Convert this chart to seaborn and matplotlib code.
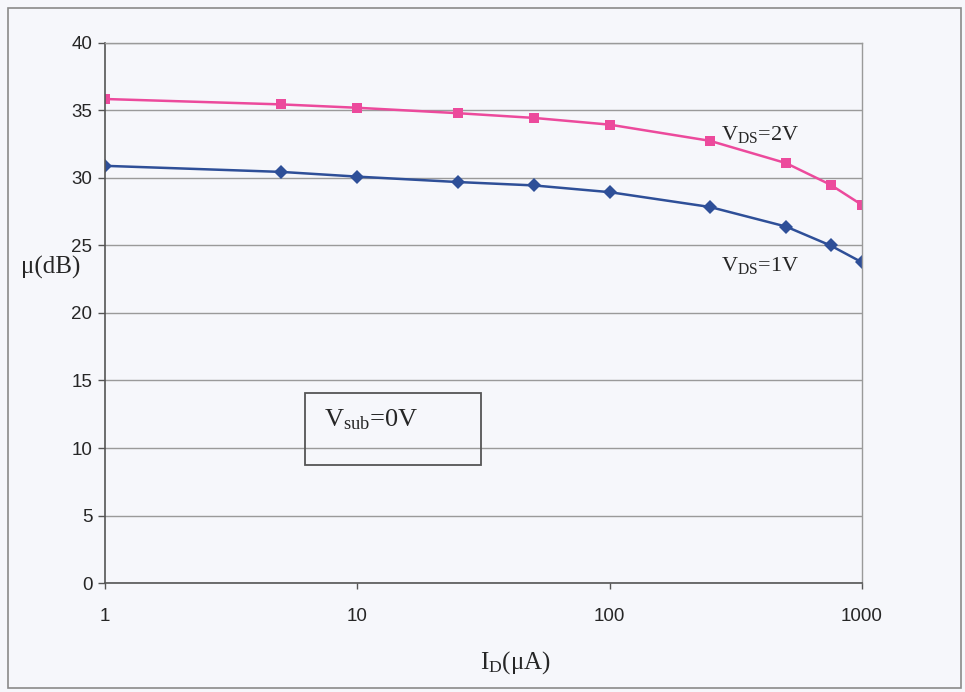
import matplotlib
matplotlib.use("Agg")
import matplotlib.pyplot as plt
import seaborn as sns
import pandas as pd
from matplotlib.patches import Rectangle
from matplotlib.ticker import FixedLocator, NullLocator, FixedFormatter

# Data
id_ua = [1, 5, 10, 25, 50, 100, 250, 500, 750, 1000]
mu_vds2 = [35.85, 35.45, 35.2, 34.8, 34.45, 33.95, 32.75, 31.1, 29.5, 28.0]
mu_vds1 = [30.9, 30.45, 30.1, 29.7, 29.45, 28.95, 27.85, 26.4, 25.0, 23.75]
series_names = ["VDS=2V", "VDS=1V"]
yticks = [0, 5, 10, 15, 20, 25, 30, 35, 40]
xticks = [1, 10, 100, 1000]
xtick_labels = ["1", "10", "100", "1000"]

df = pd.DataFrame({
    "ID": id_ua * 2,
    "mu": mu_vds2 + mu_vds1,
    "series": [series_names[0]] * len(id_ua) + [series_names[1]] * len(id_ua),
})

sns.set_theme(style="white")
plt.rcParams["font.family"] = ["Liberation Sans", "DejaVu Sans"]
plt.rcParams["mathtext.fontset"] = "custom"
plt.rcParams["mathtext.rm"] = "Liberation Serif"
plt.rcParams["mathtext.it"] = "Liberation Serif:italic"

bg = "#f6f7fb"
fig = plt.figure(figsize=(9.65, 6.92), dpi=100, facecolor=bg)
ax = fig.add_axes([0.1088, 0.1575, 0.7845, 0.7804])
ax.set_facecolor(bg)

palette = {series_names[0]: "#ec4a9c", series_names[1]: "#2e4f98"}
markers = {series_names[0]: "s", series_names[1]: "D"}
sns.lineplot(data=df, x="ID", y="mu", hue="series", style="series",
             markers=markers, dashes=False, palette=palette, ax=ax,
             legend=False, markersize=7, markeredgewidth=0, linewidth=1.8)

ax.set_xscale("log")
ax.set_xlim(1, 1000)
ax.set_ylim(0, 40)
ax.yaxis.set_major_locator(FixedLocator(yticks))
ax.xaxis.set_major_locator(FixedLocator(xticks))
ax.xaxis.set_major_formatter(FixedFormatter(xtick_labels))
ax.xaxis.set_minor_locator(NullLocator())
ax.grid(axis="y", color="#9a9a9a", linewidth=1.0)
ax.grid(axis="x", visible=False)
ax.set_axisbelow(True)

for s in ["top", "right"]:
    ax.spines[s].set_color("#9a9a9a")
    ax.spines[s].set_linewidth(1.0)
for s in ["left", "bottom"]:
    ax.spines[s].set_color("#555555")
    ax.spines[s].set_linewidth(1.2)

ax.tick_params(axis="y", which="major", direction="out", length=5, width=1,
               color="#555555", labelsize=13.5, pad=4, left=True)
ax.tick_params(axis="x", which="major", direction="out", length=4, width=1,
               color="#555555", labelsize=13.5, pad=14, bottom=True)

ax.set_xlabel("")
ax.set_ylabel("")
fig.text(0.534, 0.043, r"I$_{\mathrm{D}}$(μA)", fontsize=18,
         family="Liberation Serif", ha="center", va="center")
fig.text(0.053, 0.613, "μ(dB)", fontsize=18,
         family="Liberation Serif", ha="center", va="center")

ax.text(275, 33.2, r"V$_{\mathrm{DS}}$=2V", fontsize=16,
        family="Liberation Serif", ha="left", va="center")
ax.text(275, 23.5, r"V$_{\mathrm{DS}}$=1V", fontsize=16,
        family="Liberation Serif", ha="left", va="center")

rect = Rectangle((0.2642, 0.2185), 0.2325, 0.1333, transform=ax.transAxes,
                 fill=False, edgecolor="#555555", linewidth=1.3)
ax.add_patch(rect)
ax.text(0.289, 0.302, r"V$_{\mathrm{sub}}$=0V", transform=ax.transAxes,
        fontsize=19, family="Liberation Serif", ha="left", va="center")

border = Rectangle((0.008, 0.006), 0.988, 0.982, transform=fig.transFigure,
                   fill=False, edgecolor="#8a8a8a", linewidth=1.2)
fig.patches.append(border)

fig.savefig("out.png", dpi=100, facecolor=bg)
